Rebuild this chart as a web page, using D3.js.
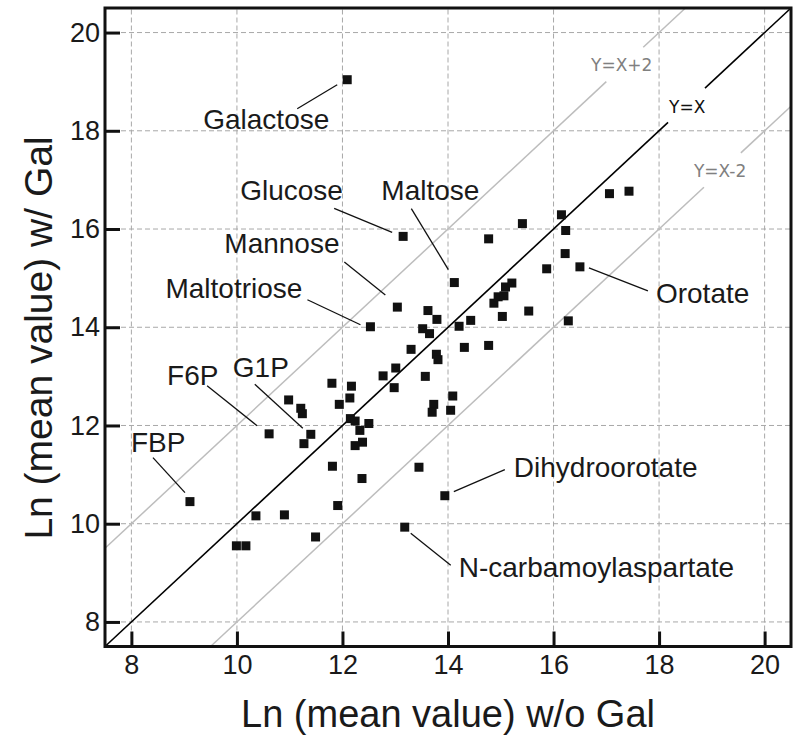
<!DOCTYPE html>
<html><head><meta charset="utf-8">
<script src="https://cdn.jsdelivr.net/npm/d3@7"></script>
<style>body{margin:0;background:#fff}svg{display:block}</style>
</head><body>
<svg id="c" width="800" height="746"></svg>
<script>
// ---- data ----
const xTicks = [8, 10, 12, 14, 16, 18, 20];
const yTicks = [8, 10, 12, 14, 16, 18, 20];
const xLabel = "Ln (mean value) w/o Gal";
const yLabel = "Ln (mean value) w/ Gal";
// x = ln(mean) without Gal, y = ln(mean) with Gal
const xVals = [12.09,13.15,14.12,13.04,12.53,13.62,13.79,13.52,13.65,13.30,13.01,12.77,12.98,13.57,13.78,13.81,14.09,13.73,13.70,14.05,
  14.21,14.43,14.31,14.77,14.77,15.41,14.87,14.95,15.06,15.09,15.21,15.03,15.53,15.87,16.15,16.23,16.22,16.28,16.50,17.06,
  17.43,11.80,12.17,12.14,11.94,10.98,11.21,11.24,10.61,11.40,11.27,11.81,11.91,9.11,10.36,10.90,11.49,9.99,10.17,12.15,
  12.24,12.50,12.33,12.38,12.24,12.37,13.45,13.94,13.18];
const yVals = [19.04,15.85,14.91,14.41,14.01,14.34,14.16,13.97,13.87,13.55,13.17,13.01,12.77,13.00,13.45,13.34,12.60,12.43,12.27,12.31,
  14.02,14.14,13.59,13.63,15.80,16.11,14.49,14.62,14.64,14.82,14.90,14.22,14.33,15.19,16.29,15.97,15.50,14.13,15.23,16.72,
  16.77,12.86,12.80,12.56,12.43,12.52,12.35,12.24,11.83,11.82,11.63,11.17,10.37,10.45,10.16,10.18,9.73,9.55,9.55,12.14,
  12.09,12.04,11.90,11.66,11.59,10.92,11.15,10.57,9.93];
const annNames = ["Galactose","Glucose","Maltose","Mannose","Maltotriose","F6P","G1P","FBP","Dihydroorotate","N-carbamoylaspartate","Orotate"];
const annIndex = [0,1,2,3,4,48,49,53,67,68,38];
const refOffsets = [2, 0, -2];
const refLabels = ["Y=X+2", "Y=X", "Y=X-2"];

// ---- layout ----
const svg = d3.select("#c");
const x = d3.scaleLinear().domain([7.5, 20.5]).range([105, 791]);
const y = d3.scaleLinear().domain([7.5, 20.5]).range([646.5, 8]);
const FONT = "'Liberation Sans', Arial, Helvetica, sans-serif";

// grid
const g = svg.append("g");
g.selectAll("line.gx").data(xTicks).join("line")
  .attr("x1", d => x(d)).attr("x2", d => x(d)).attr("y1", y.range()[0]).attr("y2", y.range()[1])
  .attr("stroke", "#a8a8a8").attr("stroke-width", 1).attr("stroke-dasharray", "5,3");
g.selectAll("line.gy").data(yTicks).join("line")
  .attr("y1", d => y(d)).attr("y2", d => y(d)).attr("x1", x.range()[0]).attr("x2", x.range()[1])
  .attr("stroke", "#a8a8a8").attr("stroke-width", 1).attr("stroke-dasharray", "5,3");

// reference lines with gaps for labels
const refStyle = [{c:"#bdbdbd", w:1.5, gap:[17.0,17.7], lab:[16.71,19.22], lc:"#808080"},
                  {c:"#000", w:1.6, gap:[18.17,18.87], lab:[18.19,18.37], lc:"#111"},
                  {c:"#bdbdbd", w:1.5, gap:[18.85,19.55], lab:[18.66,17.05], lc:"#808080"}];
refOffsets.forEach((off, i) => {
  const st = refStyle[i];
  const lo = Math.max(7.5, 7.5 - off), hi = Math.min(20.5, 20.5 - off);
  const segs = [[lo, st.gap[0]], [st.gap[1], hi]];
  segs.forEach(s => {
    svg.append("line").attr("x1", x(s[0])).attr("y1", y(s[0] + off))
      .attr("x2", x(s[1])).attr("y2", y(s[1] + off))
      .attr("stroke", st.c).attr("stroke-width", st.w);
  });
  svg.append("text").attr("x", x(st.lab[0])).attr("y", y(st.lab[1]))
    .attr("font-family", "'DejaVu Sans', sans-serif")
    .attr("font-size", 17).attr("fill", st.lc).text(refLabels[i]);
});

// points
const pts = xVals.map((v, i) => ({x: v, y: yVals[i]}));
svg.selectAll("rect.pt").data(pts).join("rect")
  .attr("x", d => x(d.x) - 4.5).attr("y", d => y(d.y) - 4.5)
  .attr("width", 9).attr("height", 9).attr("fill", "#111");

// annotations (pixel offsets relative to the annotated point)
const annLayout = [
  {t:[-144,49], a:[-50,29], b:[-10,5]},
  {t:[-163,-36], a:[-69,-28], b:[-11,-4]},
  {t:[-73,-83], a:[-43,-74], b:[-6,-13]},
  {t:[-173,-54], a:[-53,-45], b:[-12,-12]},
  {t:[-205,-29], a:[-63,-27], b:[-10,-2]},
  {t:[-102,-49], a:[-62,-48], b:[-12,-8]},
  {t:[-78,-57], a:[-56,-50], b:[-8,-6]},
  {t:[-59,-50], a:[-37,-44], b:[-5,-9]},
  {t:[69,-19], a:[60,-26], b:[9,-4]},
  {t:[54,50], a:[46,38], b:[6,6]},
  {t:[76,36], a:[68,24], b:[9,1]}
];
annNames.forEach((name, k) => {
  const p = pts[annIndex[k]], L = annLayout[k];
  const px = x(p.x), py = y(p.y);
  svg.append("line").attr("x1", px + L.a[0]).attr("y1", py + L.a[1])
    .attr("x2", px + L.b[0]).attr("y2", py + L.b[1])
    .attr("stroke", "#111").attr("stroke-width", 1.3);
  svg.append("text").attr("x", px + L.t[0]).attr("y", py + L.t[1])
    .attr("font-family", FONT).attr("font-size", 28).attr("fill", "#1a1a1a").text(name);
});

// axes (ticks inward, left and bottom)
const xAxis = d3.axisBottom(x).tickValues(xTicks).tickSize(-15).tickPadding(22).tickFormat(d3.format("d"));
const yAxis = d3.axisLeft(y).tickValues(yTicks).tickSize(-15).tickPadding(22).tickFormat(d3.format("d"));
const gx = svg.append("g").attr("transform", `translate(0,${y.range()[0]})`).call(xAxis);
const gy = svg.append("g").attr("transform", `translate(${x.range()[0]},0)`).call(yAxis);
[gx, gy].forEach(a => {
  a.select(".domain").remove();
  a.selectAll(".tick line").attr("stroke", "#111").attr("stroke-width", 3);
  a.selectAll(".tick text").attr("font-family", FONT).attr("font-size", 27).attr("fill", "#1a1a1a");
});
gx.selectAll(".tick text").attr("dy", "0.71em").attr("y", 8);
gy.selectAll(".tick text").attr("x", -5);

// frame
svg.append("rect").attr("x", x.range()[0]).attr("y", y.range()[1])
  .attr("width", x.range()[1] - x.range()[0]).attr("height", y.range()[0] - y.range()[1])
  .attr("fill", "none").attr("stroke", "#111").attr("stroke-width", 3);

// titles
svg.append("text").attr("x", (x.range()[0] + x.range()[1]) / 2).attr("y", 727)
  .attr("text-anchor", "middle").attr("font-family", FONT).attr("font-size", 38).attr("fill", "#1a1a1a").text(xLabel);
svg.append("text").attr("transform", `translate(52,338) rotate(-90)`)
  .attr("text-anchor", "middle").attr("font-family", FONT).attr("font-size", 39).attr("fill", "#1a1a1a").text(yLabel);
</script>
</body></html>
